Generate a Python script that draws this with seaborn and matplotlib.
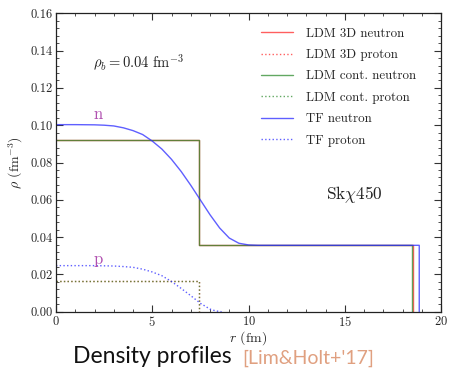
import numpy as np
import pandas as pd
import matplotlib
matplotlib.use("Agg")
import matplotlib.pyplot as plt
from matplotlib.ticker import MultipleLocator, FormatStrFormatter
import seaborn as sns

# ---- data ----
r_tf_n = [0, 1.0, 2.0, 2.5, 3.0, 3.5, 4.0, 4.5, 5.0, 5.5, 6.0, 6.5, 7.0, 7.5, 8.0, 8.5,
          9.0, 9.5, 10.0, 10.5, 11.0, 13, 15, 17, 18.87, 18.87]
rho_tf_n = [0.1003, 0.1003, 0.1002, 0.1000, 0.0996, 0.0986, 0.0971, 0.0950, 0.0915, 0.0872,
            0.0817, 0.0752, 0.0678, 0.0599, 0.0520, 0.0449, 0.0395, 0.0367, 0.0358, 0.0356,
            0.0356, 0.0356, 0.0356, 0.0356, 0.0356, 0.0]
r_tf_p = [0, 1.0, 2.0, 2.5, 3.0, 3.5, 4.0, 4.5, 5.0, 5.5, 6.0, 6.5, 7.0, 7.5, 8.0, 8.3, 8.6]
rho_tf_p = [0.0247, 0.0247, 0.0247, 0.0246, 0.0245, 0.0242, 0.0238, 0.0228, 0.0213, 0.0193,
            0.0162, 0.0125, 0.0086, 0.0045, 0.0014, 0.0004, 0.0]

r_ldm3d_n = [0, 7.43, 7.43, 18.55, 18.55]
rho_ldm3d_n = [0.0921, 0.0921, 0.0356, 0.0356, 0.0]
r_ldm3d_p = [0, 7.43, 7.43]
rho_ldm3d_p = [0.0165, 0.0165, 0.0]
r_ldmc_n = [0, 7.45, 7.45, 18.48, 18.48]
rho_ldmc_n = [0.0921, 0.0921, 0.0356, 0.0356, 0.0]
r_ldmc_p = [0, 7.45, 7.45]
rho_ldmc_p = [0.0165, 0.0165, 0.0]

labels = ["LDM 3D neutron", "LDM 3D proton", "LDM cont. neutron", "LDM cont. proton",
          "TF neutron", "TF proton"]

sns.set_theme(style="ticks")
plt.rcParams.update({
    "font.family": "serif",
    "font.serif": ["cmr10", "DejaVu Serif"],
    "mathtext.fontset": "cm",
    "axes.formatter.use_mathtext": True,
    "axes.unicode_minus": False,
})

fig = plt.figure(figsize=(4.49, 3.70), dpi=100)
ax = fig.add_axes([56/449, 1-311.7/370, (441-56)/449, (311.7-13.3)/370])

red = "#ff2a2a"
green = "#2e8b2e"
blue = "#2a2aff"
series = [
    (r_ldm3d_n, rho_ldm3d_n, red, "-", labels[0]),
    (r_ldm3d_p, rho_ldm3d_p, red, ":", labels[1]),
    (r_ldmc_n, rho_ldmc_n, green, "-", labels[2]),
    (r_ldmc_p, rho_ldmc_p, green, ":", labels[3]),
    (r_tf_n, rho_tf_n, blue, "-", labels[4]),
    (r_tf_p, rho_tf_p, blue, ":", labels[5]),
]
for x, y, c, ls, lab in series:
    sns.lineplot(x=x, y=y, ax=ax, sort=False, estimator=None, color=c,
                 linestyle=ls, linewidth=1.0, alpha=0.75, label=lab)

ax.set_xlim(0, 20)
ax.set_ylim(0, 0.16)
ax.xaxis.set_major_locator(MultipleLocator(5))
ax.xaxis.set_minor_locator(MultipleLocator(1))
ax.yaxis.set_major_locator(MultipleLocator(0.02))
ax.yaxis.set_minor_locator(MultipleLocator(0.004))
ax.yaxis.set_major_formatter(FormatStrFormatter("%.2f"))
ax.tick_params(which="both", direction="in", top=True, right=True, labelsize=9, color="#333333")
ax.tick_params(which="major", length=5, width=0.8, pad=2.5)
ax.tick_params(which="minor", length=2.5, width=0.6)
for s in ax.spines.values():
    s.set_linewidth(0.9)
    s.set_color("#222222")

ax.set_xlabel(r"$r$ (fm)", fontsize=10, labelpad=0)
ax.set_ylabel(r"$\rho$ (fm$^{-3}$)", fontsize=10, labelpad=4)

ax.text(1.9, 0.1307, r"$\rho_b = 0.04\ \mathrm{fm}^{-3}$", fontsize=10.5, color="#222222")
ax.text(14.0, 0.0605, r"Sk$\chi$450", fontsize=12.5, color="#222222")
ax.text(1.95, 0.1035, "n", fontsize=12, color="#b050b0", fontweight="bold")
ax.text(1.95, 0.0258, "p", fontsize=12, color="#b050b0", fontweight="bold")

leg = ax.legend(frameon=False, loc="upper left", fontsize=9.3, handlelength=2.5,
                handletextpad=0.95, labelspacing=0.72, borderpad=0, borderaxespad=0,
                bbox_to_anchor=((261-56)/385, (311.7-27.5)/298.4))

fig.text(73/449, 6.7/370, "Density profiles", fontsize=16.5, family="Lato", color="#111111",
         ha="left", va="baseline")
fig.text(242/449, 6.7/370, "[Lim&Holt+'17]", fontsize=14, family="Lato", color="#e0a080",
         ha="left", va="baseline")

fig.savefig("out.png", dpi=100)
